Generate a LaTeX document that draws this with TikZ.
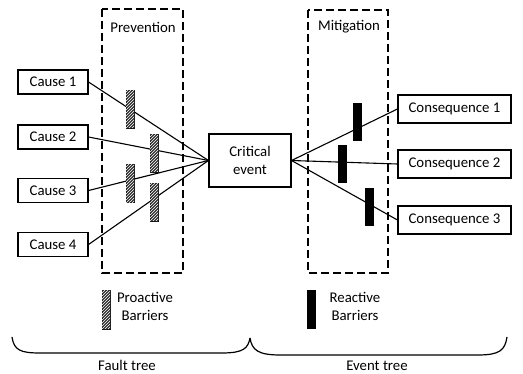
\documentclass[tikz,border=0pt]{standalone}
\usepackage{fontspec}
\setmainfont{Carlito}
\usetikzlibrary{patterns}
\tikzset{
  box/.style={draw, line width=1.1pt, inner sep=0pt, minimum height=24pt},
  zone/.style={draw, line width=1.1pt, dash pattern=on 8pt off 4pt},
  proactive/.style={draw=black!90, line width=0.6pt, fill=black!80, inner sep=0pt,
    minimum width=8pt, minimum height=38pt,
    postaction={pattern=north east lines, pattern color=white}},
  reactive/.style={fill=black, inner sep=0pt, minimum width=9pt, minimum height=38pt},
  link/.style={line width=1.1pt},
  brace/.style={line width=1.2pt},
}
\begin{document}
\begin{tikzpicture}[x=1pt,y=-1pt,font=\fontsize{14.8}{18}\selectfont]
\useasboundingbox (0,0) rectangle (523,374);

% dashed zones
\draw[zone] (102,9) rectangle (183,273);
\draw[zone] (308,10) rectangle (388,273);
\node (prev) at (143,27) {Prevention};
\node (miti) at (349,27) {Mitigation};

% causes, critical event, consequences
\node[box, minimum width=82pt, minimum height=53pt, align=center] (crit) at (250,160.5) {Critical\\event};
\foreach \i/\y in {1/82,2/137,3/190.5,4/244.5} {
  \node[box, minimum width=70pt] (c\i) at (53,\y) {Cause \i};
  \draw[link] (c\i.east) -- (crit.west);
}
\foreach \i/\y in {1/109,2/164,3/220} {
  \node[box, minimum width=113pt, minimum height=28pt] (q\i) at (454.5,\y) {Consequence \i};
  \draw[link] (crit.east) -- (q\i.west);
}

% barriers
\node[proactive] (p1) at (130,109) {};
\node[proactive] (p2) at (154,153) {};
\node[proactive] (p3) at (130,183.5) {};
\node[proactive] (p4) at (154,202) {};
\node[reactive] (r1) at (357.5,122.5) {};
\node[reactive] (r2) at (342.5,164) {};
\node[reactive] (r3) at (369,207) {};

% legend
\node[proactive, minimum height=39pt] (pkey) at (106,309.5) {};
\node[align=center] (ptext) at (145,306) {Proactive\\Barriers};
\node[reactive, minimum height=39pt] (rkey) at (311,309.5) {};
\node[align=center] (rtext) at (355,306) {Reactive\\Barriers};

% braces
\draw[brace] (12,337) .. controls (14,350) and (20,353) .. (40,353) -- (222,353)
  .. controls (244,353) and (248,348) .. (250,338);
\draw[brace] (250,338) .. controls (252,350) and (258,355) .. (280,355) -- (478,355)
  .. controls (500,355) and (505,350) .. (507,337);
\node (fault) at (127,365) {Fault tree};
\node (event) at (377,366) {Event tree};
\end{tikzpicture}
\end{document}
